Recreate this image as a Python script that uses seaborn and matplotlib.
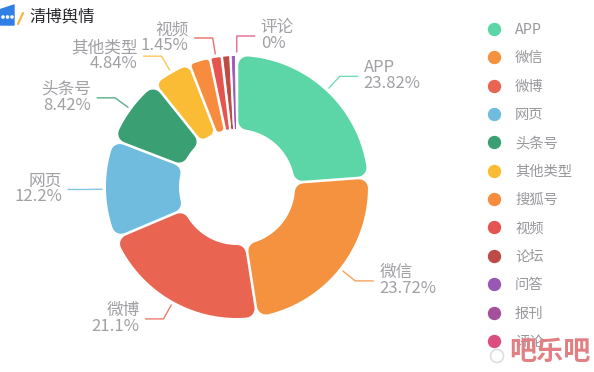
import numpy as np
import seaborn as sns
import matplotlib.pyplot as plt
from matplotlib.lines import Line2D
from matplotlib.patches import Polygon, Circle, Rectangle

names = ['APP', '微信', '微博', '网页', '头条号', '其他类型', '搜狐号', '视频', '论坛', '问答', '报刊', '评论']
shares = [23.82, 23.72, 21.1, 12.2, 8.42, 4.84, 2.6, 1.45, 1.05, 0.7, 0.05, 0.05]
colors = ['#5cd6a6', '#f4923f', '#e96552', '#6fbcdf', '#3a9f73', '#fbbc35',
          '#f78b3e', '#e6544f', '#bd4a45', '#9a58b5', '#a5509a', '#dc4d80']
# only these get a label, text as printed on the chart
labelled = {'APP': '23.82%', '微信': '23.72%', '微博': '21.1%', '网页': '12.2%',
            '头条号': '8.42%', '其他类型': '4.84%', '视频': '1.45%', '评论': '0%'}

sns.set_theme(style='white')
plt.rcParams['font.family'] = ['Noto Sans CJK SC', 'DejaVu Sans']

W, H = 594, 372
CX, CY = 237, H - 187
R_OUT, R_IN = 131, 58
GAP = 2.6
GREY = '#a0a0a5'

fig = plt.figure(figsize=(W / 100, H / 100), dpi=100)
ax = fig.add_axes([0, 0, 1, 1])
wedges, _ = ax.pie(shares, colors=colors, startangle=90, counterclock=False,
                   radius=R_OUT, center=(CX, CY), frame=True)
ax.set_xlim(0, W)
ax.set_ylim(0, H)
ax.set_aspect('equal')
ax.axis('off')


def rounded_sector(t1, t2, color):
    # corners come from a stroke in the same colour round an inset outline
    inner_arc = np.radians(t2 - t1) * R_IN - GAP
    corner = max(0.4, min(9, inner_arc * 0.42))
    off = corner + GAP / 2
    ro, ri = R_OUT - corner, R_IN + corner
    ao = np.degrees(np.arcsin(off / ro))
    ai = np.degrees(np.arcsin(off / ri))
    if t2 - t1 <= 2 * ai:
        ai = (t2 - t1) * 0.45
    outer = np.radians(np.linspace(t1 + ao, t2 - ao, 40))
    inner = np.radians(np.linspace(t2 - ai, t1 + ai, 40))
    xs = np.r_[CX + ro * np.cos(outer), CX + ri * np.cos(inner)]
    ys = np.r_[CY + ro * np.sin(outer), CY + ri * np.sin(inner)]
    ax.add_patch(Polygon(np.c_[xs, ys], closed=True, facecolor=color, edgecolor=color,
                         linewidth=2 * corner * 0.72, joinstyle='round', zorder=2))


for w, name, c in zip(wedges, names, colors):
    t1, t2 = w.theta1, w.theta2
    w.remove()
    if t2 - t1 > 0.5:
        rounded_sector(t1, t2, c)

    if name in labelled:
        mid = np.radians((t1 + t2) / 2)
        # 评论 sits on the top and goes right, everything else follows its side
        side = 1 if np.cos(mid) > 0 or name == '评论' else -1
        x0, y0 = CX + 135 * np.cos(mid), CY + 135 * np.sin(mid)
        x1, y1 = CX + 151 * np.cos(mid), CY + 151 * np.sin(mid)
        x2 = x1 + side * 18
        ax.plot([x0, x1, x2], [y0, y1, y1], color=c, lw=1, alpha=0.85, zorder=1,
                solid_joinstyle='miter')
        ax.text(x2 + side * 6, y1 + 0.5, name + '\n' + labelled[name], color=GREY, fontsize=12,
                ha='left' if side > 0 else 'right', va='center', linespacing=0.9,
                multialignment='left' if side > 0 else 'right', zorder=3)

handles = [Line2D([], [], ls='', marker='o', ms=8.6, color=c, label=n) for n, c in zip(names, colors)]
leg = ax.legend(handles=handles, loc='upper left', bbox_to_anchor=(482.5 / W, 1 - 22.8 / H), frameon=False,
                fontsize=10.3, labelspacing=1.005, handletextpad=0.67, handlelength=1.6, borderaxespad=0,
                borderpad=0)
for t in leg.get_texts():
    t.set_color('#98989d')

# logo, cut off by the left edge
ax.add_patch(Polygon([(-4, H - 11), (14, H - 5), (14, H - 25), (-4, H - 25)], closed=True,
                     facecolor='#2f7fe6', edgecolor='#2f7fe6', lw=1, joinstyle='round', zorder=4))
for x in (3, 7.5, 12):
    ax.add_patch(Circle((x, H - 17), 1.1, color='white', zorder=5))
ax.plot([23, 18], [H - 13, H - 24], color='#f5b93a', lw=1.6, zorder=4)
ax.text(29, H - 16.5, '清博舆情', color='#26262b', fontsize=11.8, ha='left', va='center', zorder=4)

# watermark, bottom right, it hides most of the last legend row
ax.add_patch(Rectangle((503, H - 372), 91, 34, facecolor='white', alpha=0.9, zorder=5))
ax.add_patch(Circle((497, H - 356), 6.5, facecolor='none', edgecolor='#dedede', lw=1.2, zorder=6))
ax.text(550, H - 351.5, '吧乐吧', color='#e27f82', fontsize=19.5, fontweight='bold', ha='center', va='center',
        zorder=7)

fig.savefig('out.png', dpi=100)
